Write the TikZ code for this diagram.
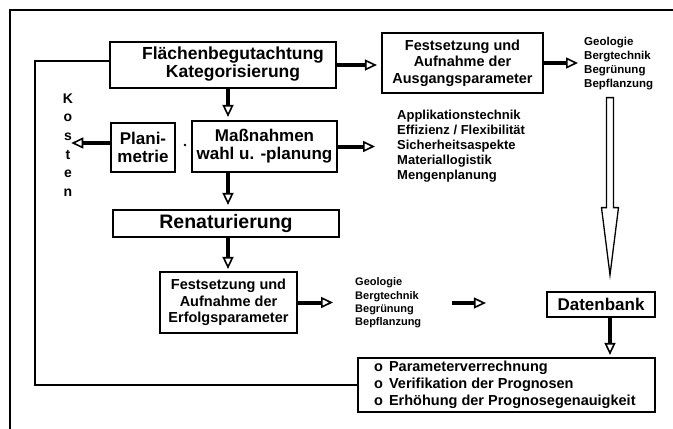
\documentclass[tikz,border=0pt]{standalone}
\usepackage{fontspec}
\setmainfont{Liberation Sans}
\usetikzlibrary{arrows.meta,calc}
\begin{document}
\begin{tikzpicture}[x=1pt,y=-1pt,
  frame/.style={line width=2pt},
  box/.style={draw, line width=2.2pt, inner sep=0pt, align=center, font=\bfseries},
  arr/.style={line width=4pt, -{Triangle[open, length=12pt, width=11pt, line width=1.6pt]}},
  feed/.style={line width=2.4pt, line join=miter},
  txt/.style={inner sep=0pt, align=left, font=\bfseries}
]
\useasboundingbox (0,0) rectangle (673,429);
\fill[white] (0,0) rectangle (673,429);

% outer frame (top and left edges)
\draw[frame] (673,10) -- (10,10) -- (10,429);

% boxes
\node[box, minimum width=226pt, minimum height=46pt] (b1) at (223,65)
  {\fontsize{17.5}{17}\selectfont\hspace*{20pt}\begin{tabular}{@{}c@{}}Flächenbegutachtung\\Kategorisierung\end{tabular}};
\node[box, minimum width=161pt, minimum height=60pt, font=\bfseries\fontsize{14.5}{16.5}\selectfont] (b2) at (462.5,63)
  {Festsetzung und\\Aufnahme der\\Ausgangsparameter};
\node[box, minimum width=64pt, minimum height=49pt, font=\bfseries\fontsize{17}{18}\selectfont] (plani) at (143,147.5)
  {Plani-\\metrie};
\node[box, minimum width=145pt, minimum height=51pt, font=\bfseries\fontsize{17}{18}\selectfont] (mass) at (264.5,146.5)
  {Maßnahmen\\wahl u. -planung};
\node[box, minimum width=226pt, minimum height=27pt, font=\bfseries\fontsize{19.5}{20}\selectfont] (renat) at (226,223.5)
  {Renaturierung};
\node[box, minimum width=137pt, minimum height=61pt, font=\bfseries\fontsize{14.5}{16.5}\selectfont] (erfolg) at (228.5,302.5)
  {Festsetzung und\\Aufnahme der\\Erfolgsparameter};
\node[box, minimum width=108pt, minimum height=25pt, font=\bfseries\fontsize{17}{18}\selectfont] (db) at (601,304.5)
  {Datenbank};
\node[box, minimum width=297pt, minimum height=54pt] (result) at (506.5,385) {};
\node[txt, anchor=west, font=\bfseries\fontsize{14.5}{17}\selectfont] (restxt) at (374,385)
  {o\hspace{6pt}Parameterverrechnung\\o\hspace{6pt}Verifikation der Prognosen\\o\hspace{6pt}Erhöhung der Prognosegenauigkeit};

% free text
\node[txt, align=center, font=\bfseries\fontsize{14}{18.6}\selectfont] (kosten) at (68,145) {K\\o\\s\\t\\e\\n};
\node[txt, anchor=west, font=\bfseries\fontsize{11.5}{13.7}\selectfont] (geo1) at (584,63.5)
  {Geologie\\Bergtechnik\\Begrünung\\Bepflanzung};
\node[txt, anchor=west, font=\bfseries\fontsize{13}{15}\selectfont] (list) at (397,146)
  {Applikationstechnik\\Effizienz / Flexibilität\\Sicherheitsaspekte\\Materiallogistik\\Mengenplanung};
\node[txt, anchor=west, font=\bfseries\fontsize{11}{13.3}\selectfont] (geo2) at (355,303)
  {Geologie\\Bergtechnik\\Begrünung\\Bepflanzung};
\node[circle, fill, inner sep=0pt, minimum size=2.6pt] (dot) at (185,145) {};

% helper coordinates
\coordinate (cx) at (228,0);
\coordinate (dx) at (610,0);
\coordinate (ky) at (0,143);

% arrows
\draw[arr, shorten >=3pt] (b1.south -| cx) -- (cx |- mass.north);
\draw[arr, shorten >=4pt] (mass.south -| cx) -- (cx |- renat.north);
\draw[arr, shorten >=2pt] (renat.south -| cx) -- (cx |- erfolg.north);
\draw[arr, shorten >=4pt] (b1.east) -- (b2.west |- b1.east);
\draw[arr, shorten >=6pt] (b2.east) -- (geo1.west |- b2.east);
\draw[arr, shorten >=22pt] (mass.east) -- (list.west |- mass.east);
\draw[arr, shorten >=-2pt] (plani.west |- ky) -- (kosten.east |- ky);
\draw[arr, shorten >=22pt] (erfolg.east) -- (geo2.west |- erfolg.east);
\draw[arr, shorten <=31pt, shorten >=60pt] (geo2.east) -- (db.west |- geo2.east);
\draw[arr, shorten >=2pt] (db.south -| dx) -- (dx |- result.north);

% long hollow arrow into the database
\coordinate (ltop) at ($(geo1.south -| dx)+(0,8)$);
\coordinate (ltip) at ($(db.north -| dx)+(0,-16)$);
\draw[line width=1.3pt, line join=miter]
  ($(ltop)+(-3.5,0)$) -- ($(ltop)+(-3.5,110)$) -- ($(ltop)+(-8.5,110)$) -- (ltip)
  -- ($(ltop)+(8.5,110)$) -- ($(ltop)+(3.5,110)$) -- ($(ltop)+(3.5,0)$) -- cycle;

% feedback line
\coordinate (fx) at (35,0);
\draw[feed] ($(b1.west)+(0,-4)$) -| (fx |- result.west) -- (result.west);
\end{tikzpicture}
\end{document}
